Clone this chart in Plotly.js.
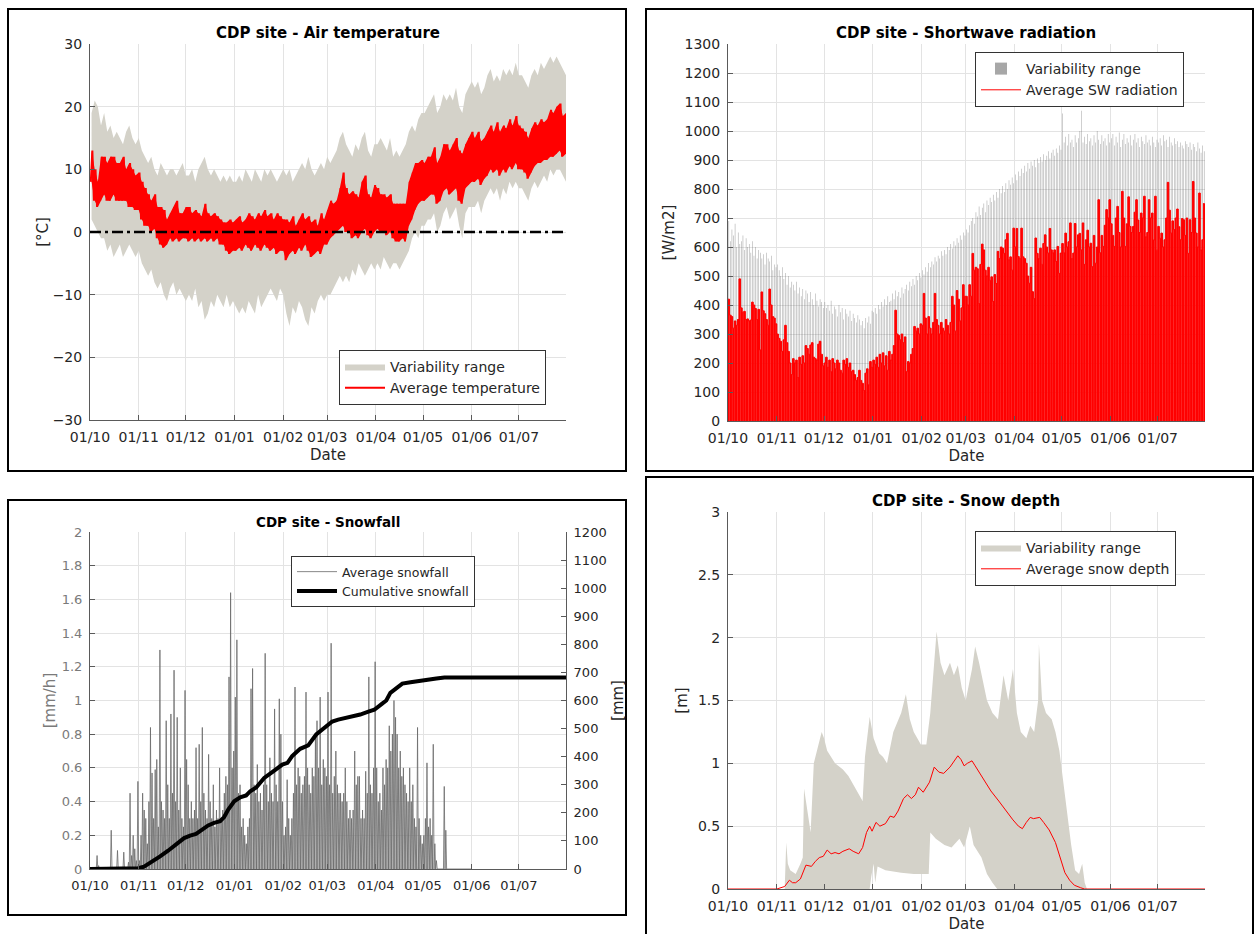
<!DOCTYPE html>
<html><head><meta charset="utf-8">
<script src="https://cdn.plot.ly/plotly-3.0.1.min.js"></script>
<style>html,body{margin:0;padding:0;background:#fff}#chart{width:1254px;height:934px}</style>
</head><body><div id="chart"></div>
<script>
// ---------------- common time frame (season Oct 2018 - Jul 2019) ----------------
const startDate = '2018-10-01';
const endDate = '2019-07-31';

// ---------------- Air temperature (every 2 days, °C) ----------------
const avgHi = [13,10,8,12,12,11,12,12,11,11,12,10,11,10,9,9.5,
  8,7,6,5,6,4,4,3.5,2,3,4,5,3,3,4,
  4,3,3.5,3,2.5,4.5,3,2.5,3,2.5,2,1.5,1.5,2,1.5,
  2,2.5,1.5,2,3,2.5,2,3,2.5,3.5,2.5,3,2,3,2.5,2,
  2,1.5,2.5,1,2,3,2,2.5,1.5,2,1,3,2,3.5,
  5,4.5,5,7,9.5,7,6,6.5,6,5.5,8,9,6,5.5,7.5,
  7,6,6,5.5,6,4.5,4.5,4.5,4.5,4.5,8,9.5,11,11,11.5,
  11,12,12,13.5,11,12,14,14,13,14,15,13,12.5,14,15,16,
  15,16,14.5,15,16,17,16,17.5,16,17,16.5,18,17,18.5,17,
  16.5,16,15,16.5,17.5,17,18,17.5,18,19.5,19,20,20.5,18.5,19];
const avgLo = [8,5,4,5,6,5,5,6,5,5,5,5,4,4,3.5,3.5,
  2,1,1,0,0.5,-1,-2,-2.5,-2,-1,-1.5,-1,-1.5,-1,-1,
  -1.5,-1,-1.5,-1,-1.5,-1,-1.5,-1,-1.5,-1,-2,-2,-3,-3.5,-3,
  -3,-2.5,-3,-2,-2.5,-3,-2,-2.5,-3,-2,-2.5,-3,-2.5,-3.5,-3,-3,
  -4.5,-3.5,-3,-3.5,-2.5,-3,-2,-3,-4,-3.5,-3,-3.5,-2,-2,
  -1,-0.5,0,0.5,1,0,0,-1,-0.5,-1,0,0.5,-0.5,-1,0,
  0.5,0,0,-0.5,0,-1,-1.5,-1.5,-1,-1.5,1,2,3.5,4.5,5,
  5,5.5,6,6,4.5,5,6.5,7,6,6.5,7,5,4.5,7,7.5,8,
  8,8.5,7.5,8.5,9,10,9.5,10,9,10,9.5,10.5,10,11,10,
  10,9.5,8.5,9.5,10.5,11,11,11.5,11.5,12,12,12.5,13,12,12.5];
const tMax = [19,21,20,17,19,16,17,15,16,15,14,16,17,15,14,15,
  13,12,11,12,10,9,11,10,9,10,10,9,10,11,9,
  9,10,8,10,11,12,10,9,10,9,8,9,8,9,8,
  8,9,8,10,9,8,10,9,8,10,9,10,9,8,9,10,
  9,10,8,9,10,11,10,12,10,9,10,11,10,12,
  11,12,13,15,16,14,13,12,14,13,15,16,13,12,14,
  14,15,14,13,15,12,13,12,13,14,16,17,16,18,19,
  19,20,21,22,19,20,22,21,22,21,23,20,19,22,23,24,
  23,24,22,23,25,26,24,25,24,26,25,26,25,27,25,
  25,24,23,25,26,25,27,26,27,28,27,28,27,26,25];
const tMin = [2,1,0,-1,-1,-3,-2,-4,-3,-2,-4,-3,-2,-3,-4,-3,
  -5,-6,-7,-6,-8,-9,-8,-10,-11,-9,-8,-10,-9,-10,-11,
  -10,-11,-9,-12,-11,-14,-13,-11,-12,-10,-11,-12,-10,-12,-11,
  -12,-13,-12,-13,-11,-12,-13,-10,-12,-11,-10,-9,-10,-11,-9,-10,
  -13,-15,-12,-13,-11,-12,-14,-15,-12,-13,-11,-10,-11,-10,
  -10,-9,-8,-7,-8,-7,-8,-6,-7,-5,-6,-7,-6,-5,-6,
  -5,-6,-4,-5,-6,-5,-5,-6,-5,-4,-3,-1,0,-1,1,
  1,2,2,3,0,1,3,4,2,3,4,1,-1,3,4,4,
  4,5,3,5,6,7,6,7,5,7,6,8,7,8,7,
  7,6,5,7,8,7,8,9,8,10,9,10,10,9,8];

// ---------------- Shortwave radiation (daily peaks, W/m2) ----------------
const swAvg = [
  420,365,360,320,345,330,350,490,390,375,378,350,352,345,348,410,400,388,350,385,245,445,380,370,350,330,455,400,360,355,335,
  300,285,275,240,280,330,270,240,200,160,215,200,210,150,220,195,225,200,260,250,230,262,270,220,215,210,265,275,230,190,
  200,220,185,210,170,215,200,180,210,200,175,165,210,195,215,185,200,170,175,160,140,150,175,140,130,105,165,180,125,205,185,
  210,195,220,185,230,200,235,190,225,175,240,210,230,260,382,300,295,280,300,270,290,170,205,200,230,250,326,310,320,300,335,
  330,440,355,300,360,320,300,340,440,350,330,300,340,320,310,350,330,300,340,430,400,310,450,420,345,390,470,430,
  430,400,470,430,578,520,530,525,405,540,610,590,520,500,530,485,497,412,505,474,585,560,600,596,578,625,647,556,566,520,665,
  600,664,567,560,665,566,560,544,500,475,530,446,422,631,578,560,596,540,612,642,600,579,664,590,580,590,550,602,509,579,
  612,580,648,600,618,683,560,579,681,600,642,647,590,683,540,625,658,600,613,532,640,544,600,763,580,640,602,675,729,700,763,
  680,640,602,700,740,650,600,792,700,602,680,773,671,650,671,720,763,693,650,717,700,775,635,650,763,700,717,624,775,589,
  671,630,648,600,625,700,823,727,648,690,660,700,731,670,625,698,694,640,700,578,694,650,826,700,648,600,786,590,625,751];
const swMax = [
  690,620,660,640,680,600,650,610,620,640,590,630,600,610,580,620,570,600,560,590,580,560,575,540,580,560,550,570,520,540,530,
  540,520,500,530,490,510,470,500,460,480,470,450,480,440,460,430,455,420,450,440,410,445,420,400,440,415,395,420,410,390,
  410,390,400,380,415,370,395,385,360,400,375,390,350,385,370,360,380,345,370,355,340,365,350,330,345,320,355,340,360,335,380,
  375,390,370,400,385,410,395,420,400,430,410,415,440,420,450,430,445,425,460,440,455,470,450,480,465,490,470,500,485,510,495,
  520,505,530,515,545,530,550,540,565,550,570,560,585,570,590,575,600,590,610,595,620,605,630,615,640,625,650,640,
  660,650,675,690,700,680,720,705,740,710,735,750,720,760,745,770,755,780,760,790,770,800,785,810,790,820,800,830,815,840,820,
  850,830,860,845,870,855,880,860,890,870,895,880,900,875,905,890,910,895,920,900,915,930,905,925,935,915,940,925,950,935,
  1060,960,980,950,990,960,970,945,985,960,975,1000,1070,960,980,955,990,965,975,950,985,960,1000,970,955,985,965,975,950,990,960,
  975,990,950,980,960,995,945,970,990,955,975,960,985,950,970,990,960,975,945,980,965,955,985,960,970,950,980,960,945,970,
  960,975,950,985,965,970,945,980,960,950,975,955,965,945,960,950,940,965,955,945,960,935,955,945,930,960,940,925,950,930];

// ---------------- Snowfall (daily peak, mm/h) and cumulative (mm) ----------------
const snowfall = [
  0,0,0,0,0.08,0.02,0,0,0,0,0,0,0,0.23,0,0,0,0.11,0,0,0,0.1,0,0,0.04,0.45,0.08,0.2,0.12,0.05,0.52,
  0.05,0.2,0.45,0.35,0.3,0.15,0.4,0.84,0.57,0.3,0.59,0.65,0.25,1.3,0.4,0.35,0.3,0.88,0.5,0.3,0.92,0.45,1.18,0.4,0.9,0.35,0.6,0.3,0.25,1.06,
  0.65,0.5,0.3,0.4,0.3,0.35,0.72,0.3,0.74,0.4,0.84,0.45,0.35,0.3,0.68,0.4,0.3,0.5,0.25,0.35,0.3,0.6,0.3,0.35,0.45,0.55,0.5,1.14,1.64,0.6,0.7,
  1.02,1.36,0.45,0.5,0.25,0.3,0.2,0.15,0.25,0.3,1.07,1.19,0.5,0.45,0.62,0.4,0.45,0.35,0.5,1.28,0.5,0.4,0.66,0.45,0.4,0.95,0.5,0.4,1.01,0.8,0.4,
  0.2,0.25,0.53,0.3,0.2,0.3,0.45,1.08,0.5,0.6,0.55,0.45,0.5,0.55,1.05,0.6,0.5,0.45,0.6,0.55,0.8,0.88,0.6,1.02,0.5,0.65,0.6,0.55,
  1.05,0.5,1.34,0.45,0.55,0.7,0.5,0.45,0.45,0.4,0.45,0.6,0.4,0.3,0.35,0.3,0.35,0.7,0.5,0.55,0.55,0.3,0.35,0.3,0.58,0.45,1.14,0.5,0.45,0.6,1.23,
  0.6,0.4,0.45,0.35,0.6,0.5,0.65,0.6,0.85,0.7,0.8,1.0,0.9,0.8,0.6,0.7,0.55,0.6,0.5,0.45,0.4,0.6,0.4,0.5,0.3,0.25,0.84,0.3,0.2,0.15,
  0.2,0.3,0.63,0.25,0.3,0.2,0.74,0.15,0.05,0,0,0,0,0.49,0.23,0,0,0,0,0,0,0,0,0,0,0,0,0,0,0,0];
const cumDay = [0,24.2,30.6,34.4,39.5,44.6,49.7,54.8,59.9,63.7,67.5,71.4,75.2,79,82.8,85.4,87.9,91.8,95.6,99.4,
  102,105.8,110.9,116,122.4,125.7,128.7,133.8,138.9,144,149.1,154.2,158,161.9,167,172,177.2,181,186,188.6,
  191.2,195,198.8,204,209,215.4,220.5,225.6,303];
const cumSnow = [0,0,3,8,25,45,65,87,110,119,125,140,155,164,170,185,211,241,255,262,
  277,290,324,345,372,378,402,428,440,479,503,525,532,537,540,550,560,567,589,600,
  627,645,660,665,668,672,678,682,682];

// ---------------- Snow depth (m), days since 1 Oct ----------------
const sdAvgDay = [0,31,36,39,41,43,46,48,49.5,53,55.5,58,60.5,63,65.5,68,70.5,73,77,79.5,
  83,85.5,88,90,91.5,94,96.5,100,103,105.5,108,111.5,114,116.5,119,121,124,128,131,134,
  137,141,144,146,148,150,152,155,157,162,167,172,176,178,181,184.5,187,189.5,192,194,
  198,200.5,204,208,212,214,217,220,224,226.5,303];
const sdAvg = [0,0,0.02,0.07,0.05,0.05,0.08,0.15,0.19,0.18,0.22,0.25,0.26,0.31,0.28,0.29,0.28,0.3,0.32,0.3,
  0.28,0.33,0.45,0.5,0.46,0.53,0.5,0.52,0.58,0.57,0.62,0.72,0.75,0.72,0.75,0.81,0.77,0.85,0.97,0.93,
  0.92,0.97,1.03,1.06,1.03,0.98,1.0,1.02,0.98,0.88,0.78,0.7,0.63,0.6,0.55,0.5,0.48,0.53,0.57,0.56,
  0.57,0.53,0.47,0.37,0.22,0.13,0.07,0.03,0.01,0,0];
const sdMaxDay = [0,36,37,38,39.5,43,46,47.5,48.3,50,52.5,54.5,59.5,61,63,68,73,76.5,82,85.5,
  87,90,92.5,96,98.5,101,105,108,110,113,115.5,118,120,122.5,126,128.5,132.5,135,137.5,141,
  143.5,146,148.5,151,155,157,159.5,162,164.5,168,171.5,174,175,178,181,183.5,186,189.5,192,194.5,
  197,197.5,199.5,202,205.6,208,210.5,213,215.5,218,220.5,223,225,226.6,228,303];
const sdMax = [0,0,0.37,0.2,0.15,0.12,0.2,0.25,0.8,0.65,0.45,1.0,1.25,1.2,1.1,1.0,0.95,0.9,0.78,0.7,
  1.05,1.37,1.2,1.08,1.05,1.0,1.25,1.35,1.4,1.55,1.35,1.25,1.2,1.15,1.15,1.4,2.05,1.8,1.7,1.8,
  1.7,1.78,1.6,1.5,1.75,1.93,1.8,1.65,1.5,1.4,1.35,1.6,1.7,1.5,1.75,1.4,1.25,1.2,1.3,1.25,
  1.5,1.95,1.5,1.4,1.35,1.25,1.1,0.85,0.6,0.35,0.15,0.12,0.2,0.05,0,0];
const sdMinDay = [0,90,91,92.5,93.5,95,100,105,110,118,127.5,128.5,132,137.5,142,147,150,153.6,156,161,164.5,168,171,303];
const sdMin = [0,0,0.1,0.2,0.05,0.18,0.15,0.14,0.13,0.12,0.12,0.45,0.4,0.35,0.33,0.4,0.33,0.5,0.35,0.25,0.12,0.05,0,0];

// ---------------- helpers ----------------
const DAY = 86400000;
const T0 = Date.parse(startDate + 'T00:00:00Z');
function dayToDate(d) { return new Date(T0 + d * DAY).toISOString().slice(0, 19); }

const FONT = 'DejaVu Sans, Liberation Sans, sans-serif';
const greyBand = 'rgb(212,210,201)';
const txt = '#262626';

const traces = [];

// Panel 1: temperature
const tX = tMax.map((_, i) => dayToDate(2 * i + 1));
traces.push({x: tX, y: tMin, xaxis: 'x', yaxis: 'y', type: 'scatter', mode: 'lines', line: {width: 0, color: greyBand}, showlegend: false, hoverinfo: 'skip'});
traces.push({x: tX, y: tMax, xaxis: 'x', yaxis: 'y', type: 'scatter', mode: 'lines', line: {width: 0, color: greyBand}, fill: 'tonexty', fillcolor: greyBand, name: 'Variability range', legend: 'legend'});
traces.push({x: tX, y: avgLo, xaxis: 'x', yaxis: 'y', type: 'scatter', mode: 'lines', line: {width: 0, color: 'red'}, showlegend: false, hoverinfo: 'skip'});
traces.push({x: tX, y: avgHi, xaxis: 'x', yaxis: 'y', type: 'scatter', mode: 'lines', line: {width: 0, color: 'red'}, fill: 'tonexty', fillcolor: '#ff0000', showlegend: false, hoverinfo: 'skip'});
const zzX = [], zzY = [];
avgLo.forEach((lo, i) => { zzX.push(dayToDate(2 * i + 0.5)); zzY.push(lo); zzX.push(dayToDate(2 * i + 1.5)); zzY.push(avgHi[i]); });
traces.push({x: zzX, y: zzY, xaxis: 'x', yaxis: 'y', type: 'scatter', mode: 'lines', line: {width: 2, color: '#ff0000'}, name: 'Average temperature', legend: 'legend'});

// Panel 2: shortwave radiation
const swXc = swAvg.map((_, i) => dayToDate(i + 0.5));
const swXs = swAvg.map((_, i) => dayToDate(i));
traces.push({x: swXc, y: swMax, xaxis: 'x2', yaxis: 'y2', type: 'bar', width: 0.35 * DAY, marker: {color: 'rgba(80,80,80,0.5)', line: {width: 0}}, name: 'Variability range', legend: 'legend2'});
traces.push({x: swXc, y: swAvg, xaxis: 'x2', yaxis: 'y2', type: 'bar', width: 1.15 * DAY, marker: {color: '#ff0000', line: {width: 0}}, showlegend: false});
traces.push({x: swXs, y: swAvg, xaxis: 'x2', yaxis: 'y2', type: 'scatter', mode: 'lines', line: {width: 1, color: '#ff0000', shape: 'hv'}, name: 'Average SW radiation', legend: 'legend2'});

// Panel 3: snowfall
const sfX = [], sfY = [];
snowfall.forEach((v, i) => { sfX.push(dayToDate(i)); sfY.push(0); sfX.push(dayToDate(i + 0.5)); sfY.push(v); });
traces.push({x: sfX, y: sfY, xaxis: 'x3', yaxis: 'y3', type: 'scatter', mode: 'lines', line: {width: 0.8, color: '#6a6a6a'}, name: 'Average snowfall', legend: 'legend3'});
traces.push({x: cumDay.map(dayToDate), y: cumSnow, xaxis: 'x3', yaxis: 'y5', type: 'scatter', mode: 'lines', line: {width: 4, color: '#000'}, name: 'Cumulative snowfall', legend: 'legend3'});

// Panel 4: snow depth
traces.push({x: sdMinDay.map(dayToDate), y: sdMin, xaxis: 'x4', yaxis: 'y4', type: 'scatter', mode: 'lines', line: {width: 0, color: greyBand}, showlegend: false, hoverinfo: 'skip'});
traces.push({x: sdMaxDay.map(dayToDate), y: sdMax, xaxis: 'x4', yaxis: 'y4', type: 'scatter', mode: 'lines', line: {width: 0, color: greyBand}, fill: 'tonexty', fillcolor: greyBand, name: 'Variability range', legend: 'legend4'});
traces.push({x: sdAvgDay.map(dayToDate), y: sdAvg, xaxis: 'x4', yaxis: 'y4', type: 'scatter', mode: 'lines', line: {width: 1, color: '#ff0000'}, name: 'Average snow depth', legend: 'legend4'});

// ---------------- layout ----------------
const W = 1254, H = 934;
const px = v => v / W, py = v => 1 - v / H;

function axBase(fs) {
  return {showline: true, linecolor: '#5a5a5a', linewidth: 1, ticks: 'inside', ticklen: 5, tickcolor: '#5a5a5a',
    showgrid: true, gridcolor: '#e3e3e3', gridwidth: 1, zeroline: false,
    tickfont: {family: FONT, size: fs, color: txt}};
}
function xAx(domain, fs, title) {
  const a = Object.assign(axBase(fs), {type: 'date', domain: domain, range: [startDate, endDate],
    tick0: startDate, dtick: 'M1', tickformat: '%d/%m', ticklabelstandoff: 4});
  if (title) a.title = {text: title, font: {family: FONT, size: 15, color: txt}, standoff: 5};
  return a;
}
function yAx(domain, range, dtick, title, fs, anchor, color, standoff) {
  const a = Object.assign(axBase(fs), {domain: domain, range: range, dtick: dtick, anchor: anchor, ticklabelstandoff: 4});
  if (color) a.tickfont.color = color;
  a.title = {text: title, font: {family: FONT, size: 15, color: color || txt}, standoff: standoff};
  return a;
}
function legendAt(x, y, fs) {
  return {x: px(x), y: py(y), xanchor: 'left', yanchor: 'top', bgcolor: '#ffffff', bordercolor: '#333333', borderwidth: 1,
    font: {family: FONT, size: fs, color: txt}, tracegroupgap: 0, itemwidth: 40, orientation: 'v', traceorder: 'normal'};
}
function titleAnn(text, x, y, fs) {
  return {text: text, xref: 'paper', yref: 'paper', x: px(x), y: py(y), xanchor: 'center', yanchor: 'middle', showarrow: false,
    font: {family: FONT, size: fs, color: '#000', weight: 700}};
}
function box(x0, y0, x1, y1) {
  return {type: 'rect', xref: 'paper', yref: 'paper', x0: px(x0), x1: px(x1), y0: py(y1), y1: py(y0), line: {color: '#000', width: 2}, fillcolor: 'rgba(0,0,0,0)', layer: 'above'};
}

const layout = {
  width: W, height: H, margin: {l: 0, r: 0, t: 0, b: 0},
  paper_bgcolor: '#fff', plot_bgcolor: '#fff', showlegend: true, barmode: 'overlay',
  font: {family: FONT, color: txt},
  xaxis: Object.assign(xAx([px(90), px(566)], 14, 'Date'), {anchor: 'y'}),
  yaxis: yAx([py(420), py(44)], [-30, 30], 10, '[°C]', 14, 'x', null, 0),
  xaxis2: Object.assign(xAx([px(728), px(1205)], 14, 'Date'), {anchor: 'y2'}),
  yaxis2: yAx([py(421), py(44)], [0, 1300], 100, '[W/m2]', 14, 'x2', null, 6),
  xaxis3: Object.assign(xAx([px(90), px(566)], 13, null), {anchor: 'y3'}),
  yaxis3: yAx([py(869), py(532)], [0, 2], 0.2, '[mm/h]', 13, 'x3', '#7a7a7a', 2),
  yaxis5: Object.assign(yAx([py(869), py(532)], [0, 1200], 100, '[mm]', 13, 'x3', null, 6), {overlaying: 'y3', side: 'right', showgrid: false}),
  xaxis4: Object.assign(xAx([px(728), px(1205)], 14, 'Date'), {anchor: 'y4'}),
  yaxis4: yAx([py(889), py(512)], [0, 3], 0.5, '[m]', 14, 'x4', null, 6),
  legend: legendAt(339, 350, 14),
  legend2: legendAt(975, 52, 14),
  legend3: legendAt(291, 556, 12.5),
  legend4: legendAt(975, 531, 14),
  annotations: [
    titleAnn('CDP site - Air temperature', 328, 33, 15),
    titleAnn('CDP site - Shortwave radiation', 966, 33, 15),
    titleAnn('CDP site - Snowfall', 328, 522, 13.5),
    titleAnn('CDP site - Snow depth', 966, 501, 15)
  ],
  shapes: [
    {type: 'line', xref: 'x domain', yref: 'y', x0: 0, x1: 1, y0: 0, y1: 0, line: {color: '#000', width: 2.5, dash: '11px,4px,3px,4px'}, layer: 'above'},
    box(8, 9, 626, 471),
    box(646, 9, 1253, 471),
    box(8, 500, 626, 915),
    box(646, 477, 1253, 940)
  ]
};

Plotly.newPlot('chart', traces, layout, {staticPlot: true, displayModeBar: false});
</script>
</body></html>
